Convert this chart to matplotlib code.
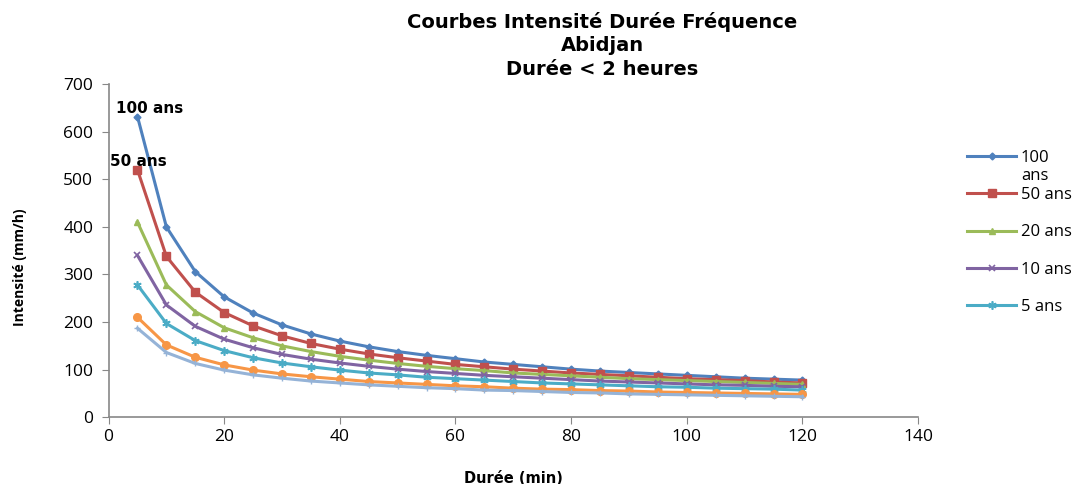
import matplotlib
matplotlib.use("Agg")
import matplotlib.pyplot as plt

# durées (min)
duree = [5, 10, 15, 20, 25, 30, 35, 40, 45, 50, 55, 60,
         65, 70, 75, 80, 85, 90, 95, 100, 105, 110, 115, 120]

# intensités (mm/h)
i_100 = [632, 400, 306, 253, 219, 194, 175, 160, 148, 138, 130, 123,
         116, 111, 106, 101, 97, 94, 91, 88, 85, 82, 80, 78]
i_50 = [520, 338, 263, 220, 192, 171, 155, 143, 133, 125, 118, 111,
        106, 101, 97, 93, 90, 87, 84, 81, 79, 77, 74, 72]
i_20 = [410, 278, 222, 188, 167, 150, 138, 128, 120, 113, 107, 102,
        98, 93, 90, 87, 84, 81, 79, 77, 75, 73, 71, 69]
i_10 = [340, 236, 191, 164, 146, 132, 122, 114, 107, 101, 96, 92,
        88, 85, 82, 79, 76, 74, 72, 70, 68, 67, 65, 64]
i_5 = [278, 197, 161, 140, 125, 114, 106, 99, 93, 89, 84, 81,
       78, 75, 72, 70, 68, 66, 64, 63, 61, 60, 59, 57]
i_2 = [210, 152, 126, 110, 99, 91, 85, 80, 75, 72, 69, 66,
       64, 61, 59, 58, 56, 55, 53, 52, 51, 50, 49, 48]
i_1 = [187, 136, 113, 99, 89, 82, 76, 72, 68, 65, 62, 60,
       57, 56, 54, 52, 51, 49, 48, 47, 46, 45, 44, 43]

plt.rcParams['font.family'] = ['Open Sans', 'DejaVu Sans']

fig = plt.figure(figsize=(10.75, 4.84), dpi=100)
ax = fig.add_axes([0.101, 0.138, 0.753, 0.688])

ax.plot(duree, i_100, color='#4F81BD', lw=2.2, marker='D', ms=3.5, label='100')
ax.plot(duree, i_50, color='#C0504D', lw=2.2, marker='s', ms=5.5, label='50 ans')
ax.plot(duree, i_20, color='#9BBB59', lw=2.2, marker='^', ms=5, label='20 ans')
ax.plot(duree, i_10, color='#8064A2', lw=2.2, marker='x', ms=5, mew=1.2, label='10 ans')
ax.plot(duree, i_5, color='#4BACC6', lw=2.2, marker=(6, 2, 0), ms=6, mew=1.2, label='5 ans')
ax.plot(duree, i_2, color='#F79646', lw=2.2, marker='o', ms=5.5, label='_nolegend_')
ax.plot(duree, i_1, color='#95B3D7', lw=2.2, marker='+', ms=5, mew=1, label='_nolegend_')

ax.annotate('100 ans', (duree[0], i_100[0]), xytext=(8.5, 6), textcoords='offset points',
            ha='center', va='center', fontsize=11, fontweight='bold', family='DejaVu Sans')
ax.annotate('50 ans', (duree[0], i_50[0]), xytext=(0.5, 6), textcoords='offset points',
            ha='center', va='center', fontsize=11, fontweight='bold', family='DejaVu Sans')

ax.set_xlim(0, 140)
ax.set_ylim(0, 700)
ax.set_xticks(range(0, 141, 20))
ax.set_yticks(range(0, 701, 100))
ax.tick_params(axis='both', labelsize=12.5, color='#888888', direction='out', length=5)
ax.tick_params(axis='y', pad=6)
for s in ['top', 'right']:
    ax.spines[s].set_visible(False)
for s in ['left', 'bottom']:
    ax.spines[s].set_color('#888888')
    ax.spines[s].set_linewidth(1.2)

ax.set_xlabel('Durée (min)', fontsize=10.5, fontweight='bold', family='DejaVu Sans', va='center')
ax.xaxis.set_label_coords(0.5, -0.183)
ax.set_ylabel('Intensité (mm/h)', fontsize=10, fontweight='bold', va='center')
ax.yaxis.set_label_coords(-0.11, 0.45)
fig.text(0.56, 0.976, 'Courbes Intensité Durée Fréquence\nAbidjan\nDurée < 2 heures',
         ha='center', va='top', fontsize=14, fontweight='bold', linespacing=1.3,
         family='DejaVu Sans')

leg = fig.legend(loc='upper left', bbox_to_anchor=(0.886, 0.721), frameon=False,
                 fontsize=12, handlelength=2.9, labelspacing=1.27, handletextpad=0.3)

# le libellé "100 ans" est coupé sur deux lignes dans la légende
fig.canvas.draw()
bb = leg.get_texts()[0].get_window_extent().transformed(fig.transFigure.inverted())
fig.text(bb.x0, bb.y0 - 0.005, 'ans', ha='left', va='top', fontsize=12)

fig.savefig('out.png', dpi=100)
